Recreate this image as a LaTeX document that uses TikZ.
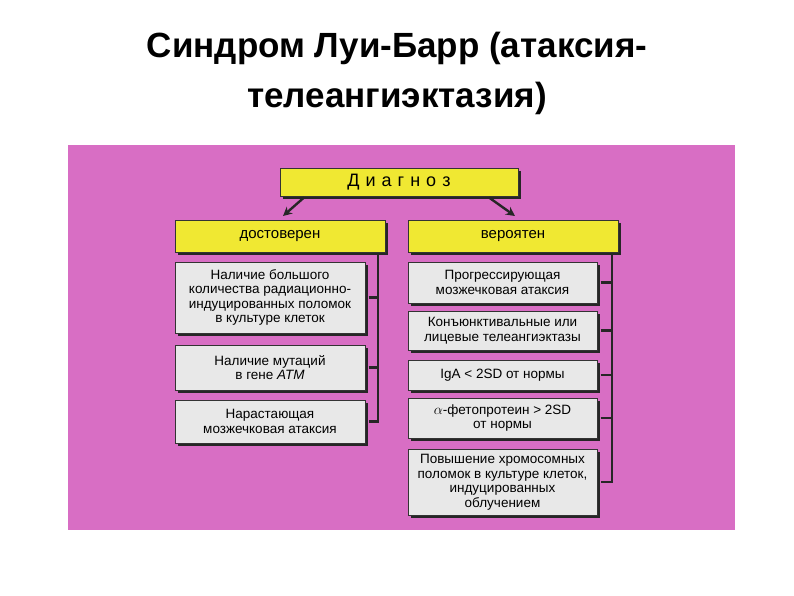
\documentclass[tikz,border=0pt]{standalone}
\usepackage{fontspec}
\setmainfont{Liberation Sans}
\usetikzlibrary{arrows.meta}
\definecolor{pinkbg}{RGB}{216,110,196}
\definecolor{ybox}{RGB}{240,232,50}
\definecolor{gbox}{RGB}{232,232,232}
\begin{document}
\begin{tikzpicture}[x=1pt,y=-1pt,
  ybx/.style={draw=black!80, line width=1pt, fill=ybox, align=center, font=\fontsize{15}{17}\selectfont, inner sep=0pt},
  gbx/.style={draw=black!80, line width=1pt, fill=gbox, align=center, font=\fontsize{13.5}{14.5}\selectfont, inner sep=0pt},
  conn/.style={line width=2.4pt, black!85},
  arr/.style={line width=2.4pt, black!85, -{Stealth[length=9pt,width=9pt]}}]
\useasboundingbox (0,0) rectangle (794,595);
\fill[white] (0,0) rectangle (794,595);
\node[font=\fontsize{35}{50}\bfseries\selectfont, align=center] (title) at (397,73) {Синдром Луи-Барр (атаксия-\\телеангиэктазия)};
\fill[pinkbg] (68,145) rectangle (735,530);
\foreach \a/\b/\c/\d in {280/168/518/196,175/220/385/252,408/220/618/252,
  175/262/365/333,175/345/365/390,175/400/365/443,
  408/262/597/303,408/311/597/350,408/360/597/390,408/398/597/438,408/449/597/515}
  \fill[black!85] (\a+3,\b+3) rectangle (\c+3,\d+3);
\node[ybx, minimum width=238, minimum height=28, font=\fontsize{18}{20}\selectfont] (d) at (399,182) {Д\,\,и\,\,а\,\,г\,\,н\,\,о\,\,з};
\node[ybx, minimum width=210, minimum height=32] (l) at (280,236) {достоверен};
\node[ybx, minimum width=210, minimum height=32] (r) at (513,236) {вероятен};
\node[gbx, minimum width=190, minimum height=71] (l1) at (270,297.5) {Наличие большого\\количества радиационно-\\индуцированных поломок\\в культуре клеток};
\node[gbx, minimum width=190, minimum height=45] (l2) at (270,367.5) {Наличие мутаций\\в гене \textit{ATM}};
\node[gbx, minimum width=190, minimum height=43] (l3) at (270,421.5) {Нарастающая\\мозжечковая атаксия};
\node[gbx, minimum width=189, minimum height=41] (r1) at (502.5,282.5) {Прогрессирующая\\мозжечковая атаксия};
\node[gbx, minimum width=189, minimum height=39] (r2) at (502.5,330.5) {Конъюнктивальные или\\лицевые телеангиэктазы};
\node[gbx, minimum width=189, minimum height=30] (r3) at (502.5,375) {IgA < 2SD от нормы};
\node[gbx, minimum width=189, minimum height=40] (r4) at (502.5,418) {$\alpha$-фетопротеин > 2SD\\от нормы};
\node[gbx, minimum width=189, minimum height=66] (r5) at (502.5,482) {Повышение хромосомных\\поломок в культуре клеток,\\индуцированных\\облучением};
\coordinate (lv) at (378,255);
\coordinate (rv) at (612,255);
\draw[conn] (lv) -- (lv |- l3.east) -- ([xshift=3pt]l3.east);
\draw[conn] ([xshift=3pt]l1.east) -- (l1.east -| lv);
\draw[conn] ([xshift=3pt]l2.east) -- (l2.east -| lv);
\draw[conn] (rv) -- (rv |- r5.east) -- ([xshift=3pt]r5.east);
\foreach \n in {r1,r2,r3,r4} \draw[conn] ([xshift=3pt]\n.east) -- (\n.east -| rv);
\draw[arr] ([xshift=-95pt,yshift=-1pt]d.south) -- (283,216);
\draw[arr] ([xshift=90pt,yshift=-1pt]d.south) -- (515,216);
\end{tikzpicture}
\end{document}
